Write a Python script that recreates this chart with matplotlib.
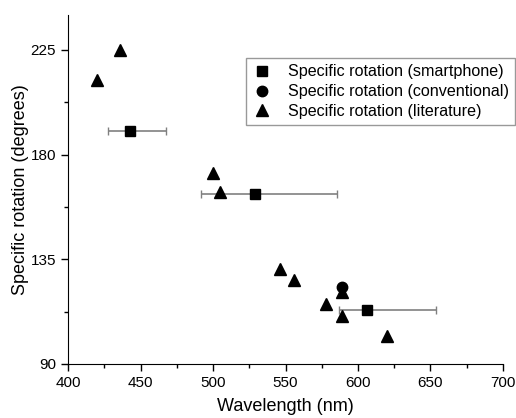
import matplotlib.pyplot as plt
from matplotlib.ticker import MultipleLocator

plt.rcParams['font.family'] = ['Liberation Sans', 'DejaVu Sans']

# smartphone measurements with asymmetric wavelength error
wl_phone = [443, 529, 606]
rot_phone = [190, 163, 113]
err_lo = [15.5, 37.5, 19]
err_hi = [24.5, 56.5, 48]

# conventional polarimeter
wl_conv = [589]
rot_conv = [123]

# literature values
wl_lit = [420, 436, 500, 505, 546, 556, 578, 589, 589, 620]
rot_lit = [212, 225, 172, 164, 131, 126, 116, 121, 110.5, 102]

fig = plt.figure(figsize=(5.16, 4.18), dpi=100)
ax = fig.add_axes([0.1318, 0.1292, 0.8430, 0.8349])

ax.errorbar(wl_phone, rot_phone, xerr=[err_lo, err_hi], fmt='none',
            ecolor='#808080', elinewidth=1.2, capsize=3, capthick=1, zorder=1)
ax.plot(wl_phone, rot_phone, 's', color='black', ms=7,
        label='Specific rotation (smartphone)', zorder=3)
ax.plot(wl_conv, rot_conv, 'o', color='black', ms=7.5,
        label='Specific rotation (conventional)', zorder=3)
ax.plot(wl_lit, rot_lit, '^', color='black', ms=9,
        label='Specific rotation (literature)', zorder=2)

ax.set_xlim(400, 700)
ax.set_ylim(90, 240)
ax.xaxis.set_major_locator(MultipleLocator(50))
ax.xaxis.set_minor_locator(MultipleLocator(25))
ax.yaxis.set_major_locator(MultipleLocator(45))
ax.yaxis.set_minor_locator(MultipleLocator(22.5))
ax.tick_params(which='major', length=5, width=1, labelsize=11)
ax.tick_params(which='minor', length=3, width=1)
for s in ['top', 'right']:
    ax.spines[s].set_visible(False)

ax.set_xlabel('Wavelength (nm)', fontsize=13, labelpad=6)
ax.set_ylabel('Specific rotation (degrees)', fontsize=13, labelpad=1)

leg = ax.legend(loc='upper right', bbox_to_anchor=(1.0276, 0.877), fontsize=11.6,
                frameon=True, fancybox=False, edgecolor='#808080',
                handletextpad=1.0, borderpad=0.4, labelspacing=0.3,
                handlelength=1.2, borderaxespad=0)
leg.get_frame().set_linewidth(1)

fig.savefig('out.png', dpi=100)
